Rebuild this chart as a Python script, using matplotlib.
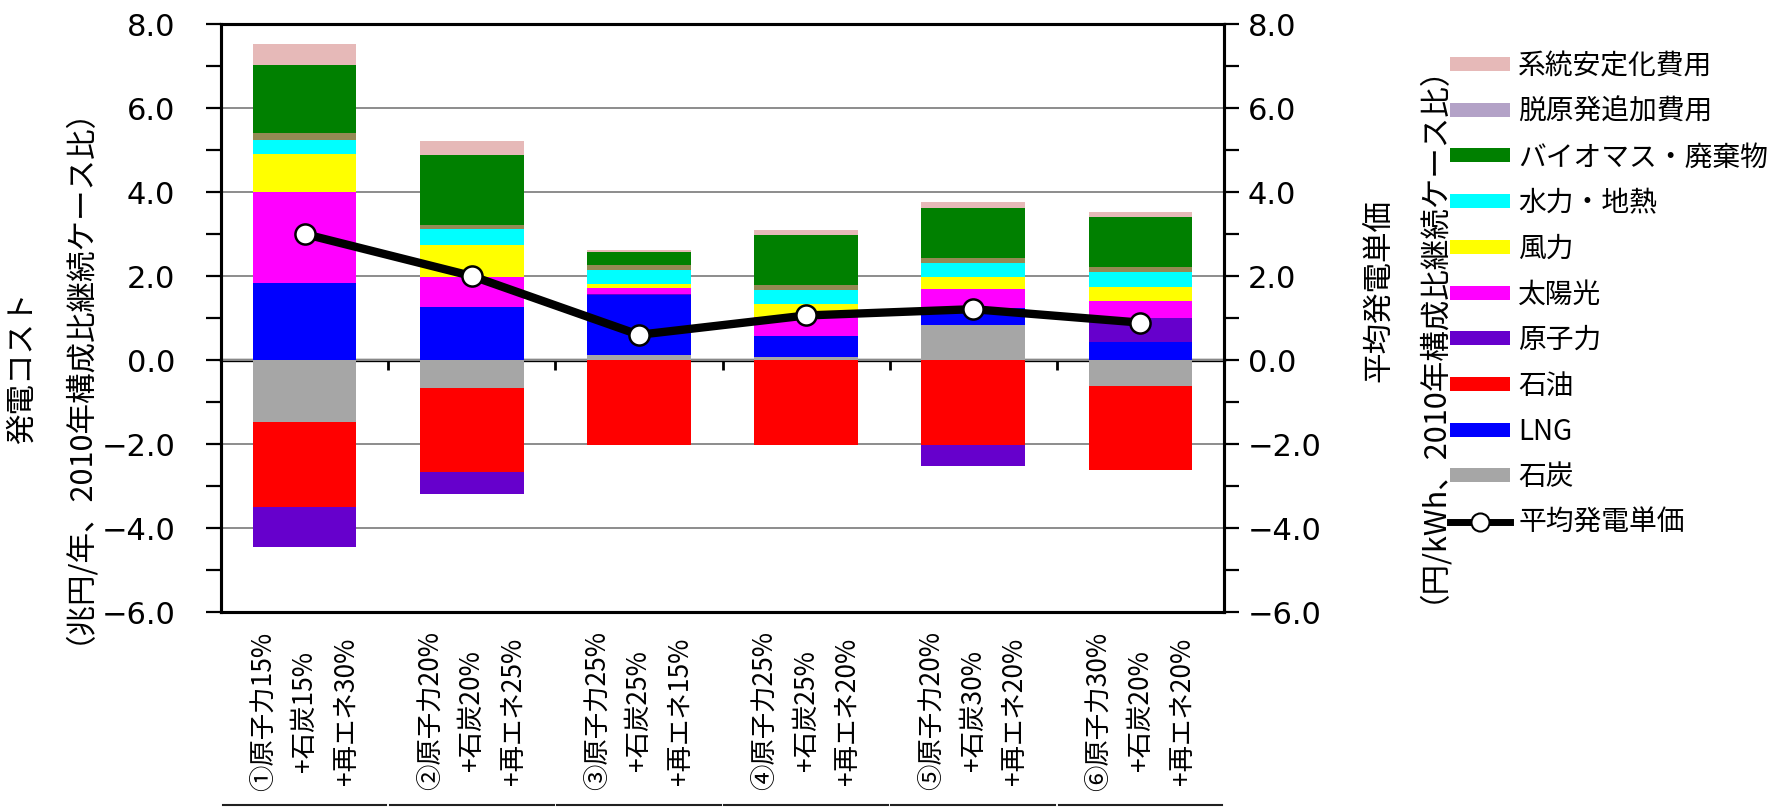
import numpy as np
import matplotlib
matplotlib.use("Agg")
import matplotlib.pyplot as plt
from matplotlib.patches import Patch
from matplotlib.lines import Line2D
from matplotlib.ticker import MultipleLocator, FuncFormatter
import matplotlib.transforms as mtransforms

plt.rcParams['font.family'] = ['Noto Sans CJK JP', 'DejaVu Sans']

# --- data -------------------------------------------------------------
scenarios = [
    '①原子力15%\n+石炭15%\n+再エネ30%',
    '②原子力20%\n+石炭20%\n+再エネ25%',
    '③原子力25%\n+石炭25%\n+再エネ15%',
    '④原子力25%\n+石炭25%\n+再エネ20%',
    '⑤原子力20%\n+石炭30%\n+再エネ20%',
    '⑥原子力30%\n+石炭20%\n+再エネ20%',
]

coal     = [-1.47, -0.66, 0.13, 0.07, 0.83, -0.61]
lng      = [1.83, 1.27, 1.42, 0.50, 0.42, 0.44]
oil      = [-2.02, -2.01, -2.02, -2.02, -2.03, -2.01]
nuclear  = [-0.97, -0.52, 0.02, 0.00, -0.49, 0.57]
solar    = [2.17, 0.71, 0.15, 0.46, 0.43, 0.40]
wind     = [0.91, 0.75, 0.10, 0.30, 0.30, 0.34]
hydro    = [0.34, 0.38, 0.33, 0.34, 0.34, 0.34]
other    = [0.15, 0.10, 0.12, 0.12, 0.12, 0.12]
biomass  = [1.62, 1.66, 0.31, 1.19, 1.19, 1.19]
phaseout = [0.00, 0.00, 0.00, 0.00, 0.00, 0.00]
grid     = [0.50, 0.35, 0.04, 0.12, 0.12, 0.12]

avg_price = [3.00, 2.00, 0.60, 1.06, 1.21, 0.89]

# stacking order from the bottom up: (values, colour, legend label)
series = [
    (coal,     '#A6A6A6', '石炭'),
    (lng,      '#0000FF', 'LNG'),
    (oil,      '#FF0000', '石油'),
    (nuclear,  '#6600CC', '原子力'),
    (solar,    '#FF00FF', '太陽光'),
    (wind,     '#FFFF00', '風力'),
    (hydro,    '#00FFFF', '水力・地熱'),
    (other,    '#948A54', None),
    (biomass,  '#008000', 'バイオマス・廃棄物'),
    (phaseout, '#B3A2C7', '脱原発追加費用'),
    (grid,     '#E6B9B8', '系統安定化費用'),
]

# --- figure -----------------------------------------------------------
W, H = 1769, 808
fig = plt.figure(figsize=(W / 100, H / 100), dpi=100)
ax = fig.add_axes([221 / W, 1 - 612 / H, (1224 - 221) / W, (612 - 24) / H])

x = np.arange(len(scenarios))
pos_base = np.zeros(len(x))
neg_base = np.zeros(len(x))
for vals, col, lab in series:
    v = np.asarray(vals, dtype=float)
    bottoms = np.where(v >= 0, pos_base, neg_base)
    ax.bar(x, v, width=0.62, bottom=bottoms, color=col, edgecolor='none', zorder=2)
    pos_base += np.clip(v, 0, None)
    neg_base += np.clip(v, None, 0)

ymin, ymax = -6.0, 8.0
ax.set_ylim(ymin, ymax)
ax.set_xlim(-0.5, len(x) - 0.5)

fmt = FuncFormatter(lambda v, p: f'{v:.1f}'.replace('-', '\u2212'))
tick_font = dict(family='DejaVu Sans', size=22)

ax.yaxis.set_major_locator(MultipleLocator(2))
ax.yaxis.set_minor_locator(MultipleLocator(1))
ax.yaxis.set_major_formatter(fmt)
ax.tick_params(axis='y', which='both', direction='out', length=11, width=1.6, pad=22)
for t in ax.get_yticklabels():
    t.set_fontproperties(tick_font)
ax.yaxis.grid(True, which='major', color='#8C8C8C', lw=1.4)
ax.set_axisbelow(True)

ax.set_xticks(x)
ax.set_xticklabels(scenarios, rotation=90, va='top', ha='center',
                   multialignment='center', fontsize=19, linespacing=1.7)
ax.tick_params(axis='x', length=0, pad=14)

for s in ax.spines.values():
    s.set_linewidth(2.2)

# horizontal axis at zero with separators between scenarios
zero_axis = ax.secondary_xaxis(0, transform=ax.transData)
zero_axis.set_xticks(np.arange(len(x) - 1) + 0.5)
zero_axis.set_xticklabels([])
zero_axis.tick_params(direction='out', length=7, width=2.0)
zero_axis.spines['bottom'].set_linewidth(2.4)

# right axis: average generation unit price
ax2 = ax.twinx()
ax2.set_ylim(ymin, ymax)
ax2.yaxis.set_major_locator(MultipleLocator(2))
ax2.yaxis.set_minor_locator(MultipleLocator(1))
ax2.yaxis.set_major_formatter(fmt)
ax2.tick_params(axis='y', which='both', direction='out', length=11, width=1.6, pad=6)
for t in ax2.get_yticklabels():
    t.set_fontproperties(tick_font)
for s in ax2.spines.values():
    s.set_linewidth(2.2)
ax2.plot(x, avg_price, color='black', lw=6, marker='o', ms=14.5,
         mfc='white', mec='black', mew=1.8, zorder=5)

# axis titles
title_kw = dict(rotation=90, ha='center', va='center', fontsize=22)
fig.text(22 / W, 1 - 368 / H, '発電コスト', **title_kw)
fig.text(62 / W, 1 - 360 / H, '（兆円/年、2010年構成比継続ケース比）', **title_kw)
fig.text(1379 / W, 1 - 290 / H, '平均発電単価', **title_kw)
fig.text(1416 / W, 1 - 318 / H, '（円/kWh、2010年構成比継続ケース比）', **title_kw)

# rule under the category labels, broken at each scenario boundary
btrans = mtransforms.blended_transform_factory(ax.transData, fig.transFigure)
for i in x:
    fig.add_artist(Line2D([i - 0.49, i + 0.49], [1 - 805 / H] * 2,
                          transform=btrans, color='#202020', lw=1.5))

# legend
handles, labels = [], []
for vals, col, lab in reversed(series):
    if lab is None:
        continue
    handles.append(Patch(facecolor=col, edgecolor='none'))
    labels.append(lab)
handles.append(Line2D([], [], color='black', lw=5, marker='o', ms=13,
                      mfc='white', mec='black', mew=1.5))
labels.append('平均発電単価')
fig.legend(handles, labels, loc='upper left',
           bbox_to_anchor=(1450 / W, 1 - 51 / H), frameon=False,
           fontsize=20, handlelength=2.15, handleheight=0.4,
           handletextpad=0.3, labelspacing=0.565, borderpad=0, borderaxespad=0)

fig.savefig('out.png', dpi=100)
